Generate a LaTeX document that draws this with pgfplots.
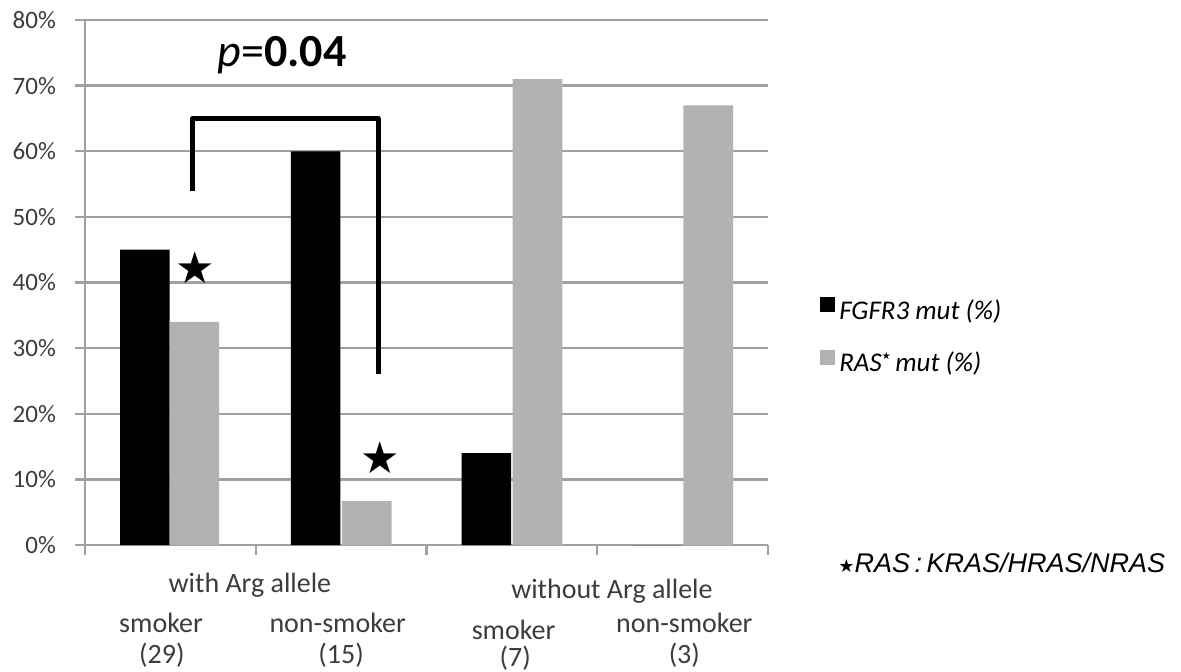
\documentclass[border=0pt]{standalone}
\usepackage{fontspec}
\setmainfont{Carlito}
\newfontfamily\arial{Liberation Sans}
\newfontfamily\dejavu{DejaVu Sans}
\usepackage{pgfplots}
\pgfplotsset{compat=1.18}
\definecolor{gridc}{RGB}{160,160,160}
\definecolor{barg}{RGB}{178,178,178}
\definecolor{tickc}{RGB}{60,60,60}
\begin{document}
\begin{tikzpicture}
\begin{axis}[
  at={(0,0)}, anchor=origin,
  scale only axis, width=341.5pt, height=262.5pt,
  xmin=0, xmax=4, ymin=0, ymax=80,
  axis x line*=bottom, axis y line*=left,
  axis line style={gridc, line width=1.2pt, -},
  xtick={0,1,2,3,4}, xticklabels={},
  ytick={0,10,...,80},
  yticklabel={\pgfmathprintnumber{\tick}\%},
  /pgf/number format/assume math mode=true,
  yticklabel style={font=\fontsize{12.5}{14}\selectfont, text=tickc, xshift=-6pt},
  ymajorgrids, xmajorgrids=false, major grid style={gridc, line width=1.2pt},
  tick style={gridc, line width=1.2pt},
  xtick align=outside, ytick align=outside, ytick pos=left, xtick pos=bottom,
  major tick length=5pt,
  clip=false,
  legend style={at={(1.076,0.476)}, anchor=north west, draw=none, fill=none,
    font=\fontsize{13.5}{15}\selectfont\itshape, row sep=11pt, inner sep=0pt,
    /tikz/every even column/.append style={column sep=5pt}},
  legend cell align=left,
]
\addplot[ybar, bar width=0.29, bar shift=0pt, fill=black, draw=none,
  legend image code/.code={\fill[black] (0,-0.5pt) rectangle (7.5pt,7pt);}]
  coordinates {(0.35,45) (1.35,60) (2.35,14) (3.35,0)};
\addlegendentry{FGFR3 mut (\%)}
\addplot[ybar, bar width=0.29, bar shift=0pt, fill=barg, draw=none,
  legend image code/.code={\fill[barg] (0,-0.5pt) rectangle (7.5pt,7pt);}]
  coordinates {(0.64,34) (1.65,6.7) (2.65,71) (3.65,67)};
\addlegendentry{RAS\raisebox{6pt}{\tiny\dejavu\upshape ★}\,mut (\%)}
% bracket
\addplot[black, line width=2.5pt, line join=round, forget plot]
  coordinates {(0.632,54) (0.632,65) (1.716,65) (1.716,26)};
% stars
\addplot[draw=none, mark=none, forget plot,
  nodes near coords={\dejavu ★},
  every node near coord/.style={anchor=center, font=\fontsize{22}{22}\selectfont}]
  coordinates {(0.645,42.2) (1.73,13.3)};
% annotations
\node[font=\fontsize{23}{26}\selectfont] at (axis cs:1.154,74.7) {\textit{p}=\textbf{0.04}};
\begin{scope}[every node/.style={font=\fontsize{14}{16}\selectfont, text=tickc}]
\node at (axis cs:0.966,-6.1) {with Arg allele};
\node at (axis cs:3.086,-7.0) {without Arg allele};
\node at (axis cs:0.445,-11.9) {smoker};
\node at (axis cs:0.45,-16.8) {(29)};
\node at (axis cs:1.48,-11.9) {non-smoker};
\node at (axis cs:1.5,-16.8) {(15)};
\node at (axis cs:2.51,-12.9) {smoker};
\node at (axis cs:2.52,-17.2) {(7)};
\node at (axis cs:3.51,-11.9) {non-smoker};
\node at (axis cs:3.51,-16.8) {(3)};
\end{scope}
\node[anchor=west, inner sep=0pt, font=\fontsize{13.5}{15}\selectfont\arial\itshape]
  at (axis cs:4.41,-2.7) {{\dejavu\upshape\fontsize{9}{9}\selectfont ★}RAS\,:\,KRAS/HRAS/NRAS};
\end{axis}
\pgfresetboundingbox
\useasboundingbox (-42.5pt,-63pt) rectangle (548pt,272.5pt);
\end{tikzpicture}
\end{document}
